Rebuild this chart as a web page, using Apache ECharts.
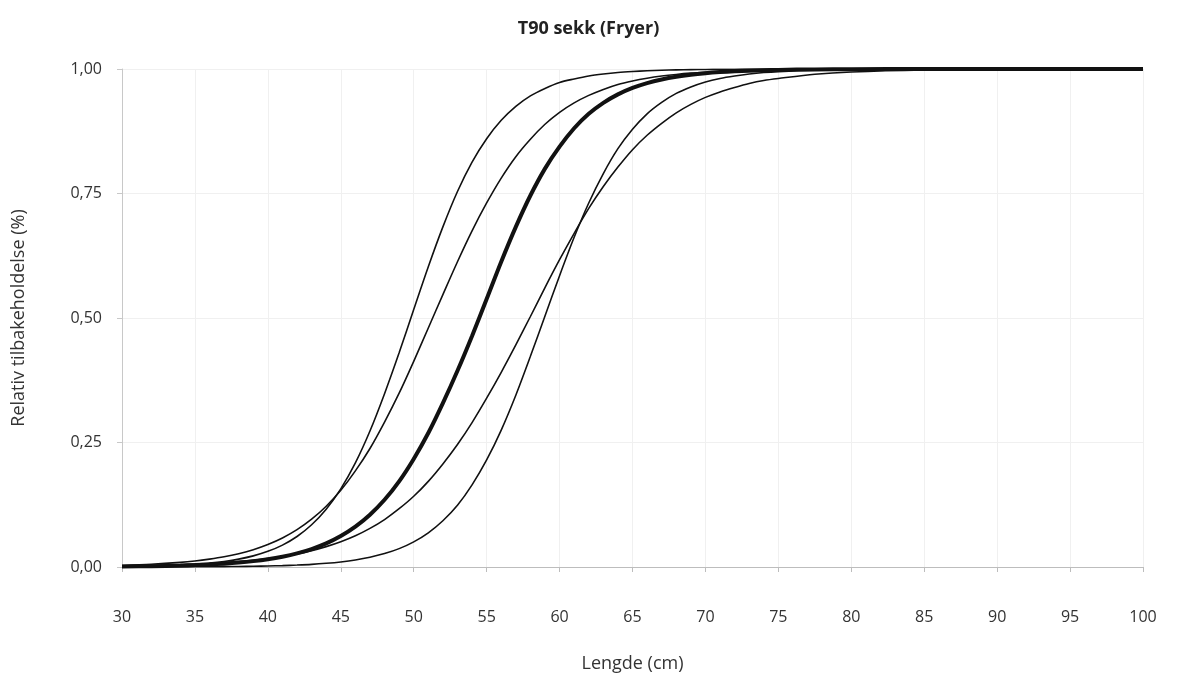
<!DOCTYPE html>
<html>
<head>
<meta charset="utf-8">
<title>T90 sekk (Fryer)</title>
<script src="https://cdn.jsdelivr.net/npm/echarts@6/dist/echarts.min.js"></script>
<style>
    html, body { margin: 0; padding: 0; background: #fff; }
    #chart { width: 1177px; height: 678px; }
</style>
</head>
<body>
<div id="chart"></div>
<script>
    // lengde (cm)
    var lengths = [30, 32, 34, 35, 36, 37, 38, 39, 40, 41, 42, 43, 44, 45, 46, 47, 48, 49, 50, 51, 52, 53, 54, 55, 56, 57, 58, 59, 60,
        61, 62, 63, 64, 65, 66, 67, 68, 69, 70, 71, 72, 73, 74, 75, 77.5, 80, 85, 90, 95, 100];

    // kurver lest av bildet (tynne = konfidensgrenser, tykk = middel)
    var curveA = [0.001, 0.002, 0.004, 0.0057, 0.0079, 0.0112, 0.0158, 0.0223, 0.0314, 0.044, 0.0612, 0.0848, 0.116, 0.157, 0.209, 0.273, 0.348, 0.430, 0.517, 0.603,
        0.683, 0.754, 0.813, 0.860, 0.897, 0.925, 0.946, 0.961, 0.973, 0.980, 0.986, 0.990, 0.993, 0.995, 0.9965, 0.9975, 0.9983, 0.9988, 0.9991, 0.9994,
        0.9996, 0.9997, 0.9998, 0.9998, 0.9999, 1, 1, 1, 1, 1];
    var curveB = [0.0031, 0.0054, 0.0092, 0.012, 0.0158, 0.0205, 0.0267, 0.0347, 0.0451, 0.0582, 0.0749, 0.0959, 0.122, 0.154, 0.193, 0.238, 0.291, 0.349, 0.413, 0.480,
        0.547, 0.613, 0.675, 0.731, 0.781, 0.824, 0.859, 0.889, 0.913, 0.932, 0.947, 0.959, 0.969, 0.976, 0.9815, 0.9858, 0.9891, 0.9917, 0.9936, 0.9951,
        0.9963, 0.9972, 0.9979, 0.9984, 0.9992, 0.9996, 1, 1, 1, 1];
    var curveMean = [0.0009, 0.0016, 0.0029, 0.0038, 0.005, 0.0067, 0.0089, 0.0118, 0.0156, 0.0207, 0.0274, 0.0361, 0.0474, 0.0622, 0.081, 0.105, 0.135, 0.172, 0.217, 0.269,
        0.329, 0.394, 0.464, 0.538, 0.613, 0.683, 0.746, 0.800, 0.844, 0.881, 0.910, 0.932, 0.949, 0.962, 0.9717, 0.979, 0.9845, 0.9886, 0.9916, 0.9938,
        0.9954, 0.9966, 0.9975, 0.9982, 0.9992, 0.9996, 1, 1, 1, 1];
    var curveD = [0.0018, 0.0028, 0.0044, 0.0055, 0.0069, 0.0087, 0.0108, 0.0136, 0.0169, 0.0212, 0.0264, 0.0329, 0.0409, 0.0507, 0.0627, 0.0775, 0.0953, 0.117, 0.142, 0.172,
        0.207, 0.246, 0.290, 0.339, 0.391, 0.446, 0.503, 0.561, 0.617, 0.670, 0.720, 0.764, 0.803, 0.838, 0.867, 0.891, 0.912, 0.929, 0.943, 0.954,
        0.963, 0.971, 0.977, 0.981, 0.9895, 0.9941, 0.9981, 0.9994, 0.9998, 1];
    var curveE = [0.0001, 0.0002, 0.0003, 0.0004, 0.0005, 0.0008, 0.001, 0.0014, 0.002, 0.0028, 0.0039, 0.0053, 0.0074, 0.0102, 0.0141, 0.0195, 0.0269, 0.0369, 0.0505, 0.0687,
        0.0929, 0.124, 0.165, 0.215, 0.275, 0.345, 0.423, 0.504, 0.585, 0.662, 0.731, 0.790, 0.840, 0.879, 0.910, 0.933, 0.951, 0.964, 0.974, 0.981,
        0.986, 0.990, 0.9929, 0.9948, 0.9977, 0.999, 0.9998, 1, 1, 1];

    var yTicks = [0, 0.25, 0.5, 0.75, 1];

    function pairs(vals) {
        return lengths.map(function (x, i) { return [x, vals[i]]; });
    }

    function line(name, vals, width) {
        return {
            name: name,
            type: 'line',
            data: pairs(vals),
            showSymbol: false,
            smooth: 0.3,
            silent: true,
            lineStyle: { color: '#111', width: width },
            z: width > 2 ? 5 : 2
        };
    }

    var chart = echarts.init(document.getElementById('chart'));
    var font = '"Open Sans", "Noto Sans", sans-serif';

    chart.setOption({
        animation: false,
        backgroundColor: '#ffffff',
        title: {
            text: 'T90 sekk (Fryer)',
            left: 'center',
            top: 15,
            textStyle: { fontFamily: font, fontSize: 18, fontWeight: 'bold', color: '#222' }
        },
        grid: { left: 122, right: 34, top: 69, bottom: 104 },
        xAxis: {
            type: 'value',
            min: 30,
            max: 100,
            interval: 5,
            name: 'Lengde (cm)',
            nameLocation: 'middle',
            nameGap: 88,
            nameTextStyle: { fontFamily: font, fontSize: 18, color: '#333' },
            axisLine: { lineStyle: { color: '#bdbdbd', width: 1 } },
            axisTick: { show: true, length: 5, lineStyle: { color: '#bdbdbd' } },
            axisLabel: { margin: 42, fontFamily: font, fontSize: 16, color: '#333' },
            splitLine: { show: true, lineStyle: { color: '#f0f0f0', width: 1 } }
        },
        yAxis: {
            type: 'value',
            min: 0,
            max: 1,
            interval: 0.25,
            name: 'Relativ tilbakeholdelse (%)',
            nameLocation: 'middle',
            nameGap: 94,
            nameTextStyle: { fontFamily: font, fontSize: 18, color: '#333' },
            axisLine: { show: true, lineStyle: { color: '#c8c8c8', width: 1 } },
            axisTick: { show: true, length: 5, lineStyle: { color: '#c8c8c8' } },
            axisLabel: {
                margin: 20,
                fontFamily: font,
                fontSize: 16,
                color: '#333',
                formatter: function (v) {
                    return yTicks.indexOf(v) >= 0 ? v.toFixed(2).replace('.', ',') : '';
                }
            },
            splitLine: { show: true, lineStyle: { color: '#f0f0f0', width: 1 } }
        },
        series: [
            line('A', curveA, 1.6),
            line('B', curveB, 1.6),
            line('D', curveD, 1.6),
            line('E', curveE, 1.6),
            line('Middel', curveMean, 4)
        ]
    });
</script>
</body>
</html>
